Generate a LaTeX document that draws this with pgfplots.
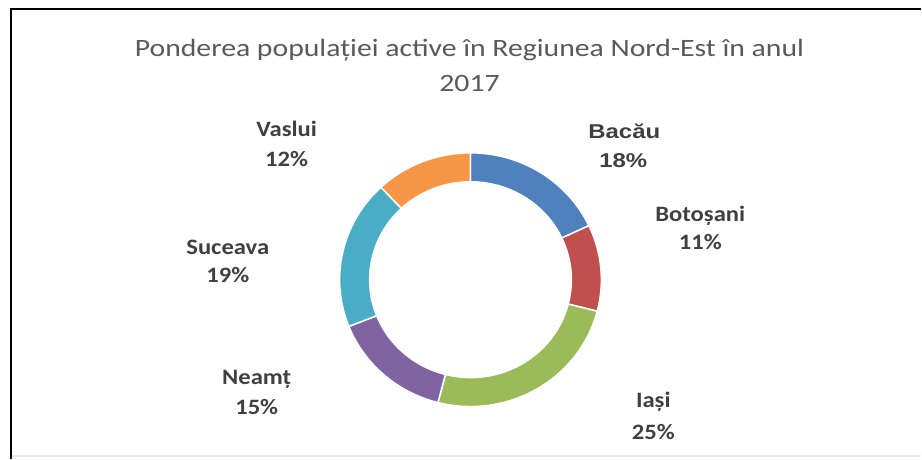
\documentclass[border=0pt]{standalone}
\usepackage{pgfplots}
\pgfplotsset{compat=1.18}
\usepackage{pgfplotstable}
\usepackage{fontspec}
\setmainfont{Carlito}
\newfontfamily\arialfont{Liberation Sans}

\definecolor{slice0}{HTML}{4F81BD}
\definecolor{slice1}{HTML}{C0504D}
\definecolor{slice2}{HTML}{9BBB59}
\definecolor{slice3}{HTML}{8064A2}
\definecolor{slice4}{HTML}{4BACC6}
\definecolor{slice5}{HTML}{F79646}
\definecolor{titlegray}{HTML}{595959}
\definecolor{labelgray}{HTML}{404040}

% share of active population, clockwise from 12 o'clock
\pgfplotstableread{
region pct
Bacau 18
Botosani 11
Iasi 25
Neamt 15
Suceava 19
Vaslui 12
}\slices

\begin{document}
\begin{tikzpicture}
\begin{axis}[
    x=1pt, y=1pt,
    xmin=0, xmax=922, ymin=0, ymax=459,
    scale only axis,
    hide axis,
    clip=false,
]
\path (0,0) rectangle (922,459);

% frame
\draw[line width=2pt, black] (11,0) -- (11,450) -- (922,450);
\draw[line width=2pt, gray!18] (12,3) -- (922,3);

% donut
\def\sa{90}
\pgfplotsforeachungrouped \i in {0,...,5}{
    \pgfplotstablegetelem{\i}{pct}\of\slices
    \pgfmathsetmacro\ea{\sa-3.6*\pgfplotsretval}
    \edef\temp{\noexpand\fill[slice\i, draw=white, line width=1.5pt]
        ({471+131*cos(\sa)},{179+127*sin(\sa)})
        arc[start angle=\sa, end angle=\ea, x radius=131pt, y radius=127pt]
        -- ({471+101*cos(\ea)},{179+98*sin(\ea)})
        arc[start angle=\ea, end angle=\sa, x radius=101pt, y radius=98pt]
        -- cycle;}
    \temp
    \global\let\sa\ea
}

% title
\tikzset{ttl/.style={anchor=base, text=titlegray, xscale=1.19, font=\fontsize{25}{30}\selectfont}}
\node[ttl] at (470,402) {Ponderea populației active în Regiunea Nord-Est în anul};
\node[ttl] at (470,367) {2017};

% data labels
\tikzset{lab/.style={anchor=base, text=labelgray, xscale=1.12, font=\fontsize{22}{26}\selectfont\bfseries}}
\node[lab, xscale=1.07, font=\fontsize{20}{24}\selectfont\arialfont\bfseries] at (625,320) {Bacău};
\node[lab, xscale=1.07, font=\fontsize{20}{24}\selectfont\arialfont\bfseries] at (624,291) {18\%};
\node[lab] at (701,237) {Botoșani};
\node[lab] at (701,209) {11\%};
\node[lab] at (654,51) {Iași};
\node[lab] at (654,19) {25\%};
\node[lab] at (257,74) {Neamț};
\node[lab] at (257,44) {15\%};
\node[lab] at (228,204) {Suceava};
\node[lab] at (228,176) {19\%};
\node[lab] at (287,322) {Vaslui};
\node[lab] at (287,292) {12\%};
\end{axis}
\end{tikzpicture}
\end{document}
